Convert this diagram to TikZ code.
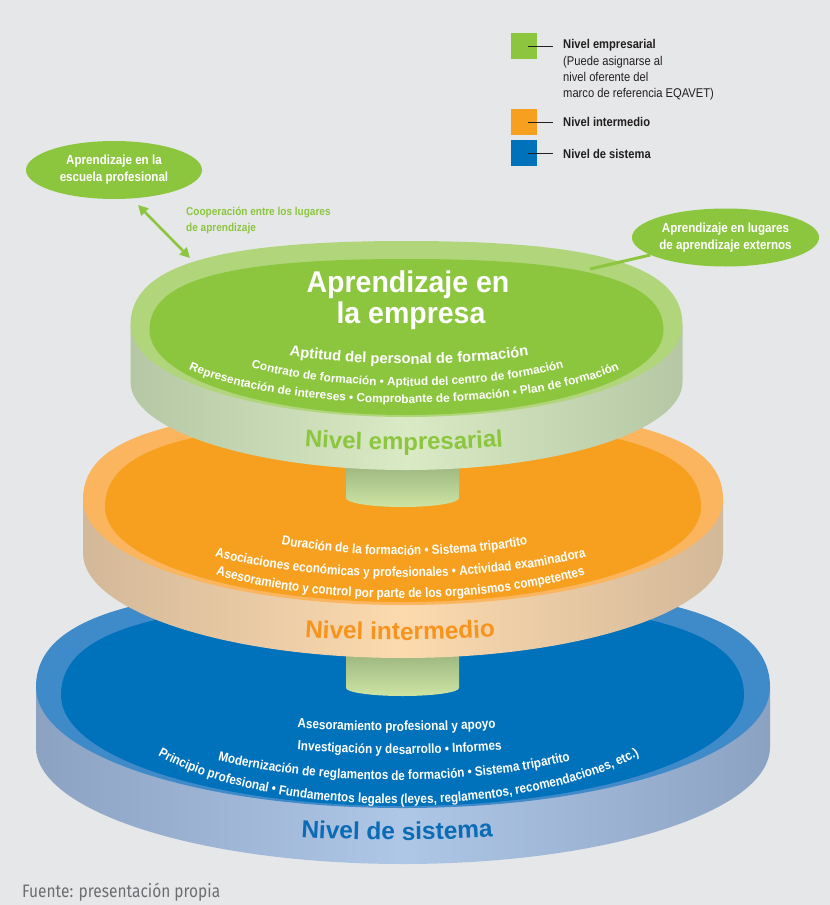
\documentclass[tikz,border=0pt]{standalone}
\usepackage{fontspec}
\setmainfont{Liberation Sans}
\newfontfamily\lsn{Liberation Sans}
\newfontfamily\lsc{Liberation Sans}[FakeStretch=0.88]
\newfontfamily\lst{Liberation Sans}[FakeStretch=0.95]
\newfontfamily\footfont{Fira Sans}[FakeStretch=0.86]
\usetikzlibrary{shapes.geometric,arrows.meta,decorations.text}
\definecolor{bg}{HTML}{E6E7E8}
\definecolor{gface}{HTML}{8CC63F}
\definecolor{gring}{HTML}{B1D57A}
\definecolor{gsideA}{HTML}{B5C7A4}
\definecolor{gsideB}{HTML}{DAEAC5}
\definecolor{oface}{HTML}{F7A01F}
\definecolor{oring}{HTML}{FAB55E}
\definecolor{osideA}{HTML}{D3B899}
\definecolor{osideB}{HTML}{FCDAAE}
\definecolor{bface}{HTML}{0071BB}
\definecolor{bring}{HTML}{3F8AC9}
\definecolor{bsideA}{HTML}{8CA2C3}
\definecolor{bsideB}{HTML}{AFC7E7}
\definecolor{stemA}{HTML}{8CA774}
\definecolor{stemB}{HTML}{CDE4A3}
\definecolor{olabel}{HTML}{F7941D}
\definecolor{blabel}{HTML}{0B6CB5}
\definecolor{txtdark}{HTML}{231F20}
\definecolor{footgray}{HTML}{6D6E71}
% face outline: cx, yc, rx, ytop, ybot
\newcommand\discface[5]{({#1-#3},{#2}) .. controls ({#1-#3},{#2-0.7*(#2-#4)}) and ({#1-0.7*#3},{#4}) .. ({#1},{#4}) .. controls ({#1+0.7*#3},{#4}) and ({#1+#3},{#2-0.7*(#2-#4)}) .. ({#1+#3},{#2}) .. controls ({#1+#3},{#2+0.56*(#5-#2)}) and ({#1+0.56*#3},{#5}) .. ({#1},{#5}) .. controls ({#1-0.56*#3},{#5}) and ({#1-#3},{#2+0.56*(#5-#2)}) .. cycle}
% side wall: cx, yc, rx, yedge, ybot
\newcommand\discside[5]{({#1-#3},{#2}) -- ({#1-#3},{#4}) .. controls ({#1-#3},{#4+0.552*(#5-#4)}) and ({#1-0.552*#3},{#5}) .. ({#1},{#5}) .. controls ({#1+0.552*#3},{#5}) and ({#1+#3},{#4+0.552*(#5-#4)}) .. ({#1+#3},{#4}) -- ({#1+#3},{#2}) -- cycle}
% lower half ellipse for text: cx, cy, a, b
\newcommand\textarc[4]{({#1-#3},{#2}) .. controls ({#1-#3},{#2+0.552*#4}) and ({#1-0.552*#3},{#2+#4}) .. ({#1},{#2+#4}) .. controls ({#1+0.552*#3},{#2+#4}) and ({#1+#3},{#2+0.552*#4}) .. ({#1+#3},{#2})}
\tikzset{
  sidewall/.style 2 args={left color=#1, right color=#1, middle color=#2},
  stemshade/.style={top color=stemA, bottom color=stemB},
  bubble/.style={ellipse, fill=gface, inner sep=0pt, align=center, text=white,
    font=\lsc\bfseries\fontsize{13.2}{17}\selectfont},
  legsq/.style={minimum width=26pt, minimum height=26pt, inner sep=0pt, anchor=north west},
  legtick/.style={txtdark, line width=0.8pt},
  legtext/.style={anchor=base west, inner sep=0pt, text=txtdark, font=\lsc\fontsize{12.7}{15}\selectfont},
}
\begin{document}
\begin{tikzpicture}[x=1pt,y=-1pt]
\fill[bg] (0,0) rectangle (830,905);
\useasboundingbox (0,0) rectangle (830,905);

% ---- blue disc
\shade[sidewall={bsideA}{bsideB}] \discside{403}{687}{367}{747}{864};
\fill[bring] \discface{403}{687}{367}{584}{808};
\fill[bface] \discface{402.5}{695}{341.5}{601}{806};
% stem 2
\shade[stemshade] (346,640) -- (346,688) .. controls (346,692.4) and (371.3,696) .. (402.5,696) .. controls (433.7,696) and (459,692.4) .. (459,688) -- (459,640) -- cycle;

% ---- orange disc
\shade[sidewall={osideA}{osideB}] \discside{403}{499}{320}{553}{658};
\fill[oring] \discface{403}{499}{320}{408}{605};
\fill[oface] \discface{403}{507}{298}{422}{602};
% stem 1
\shade[stemshade] (346,450) -- (346,498) .. controls (346,503) and (371.3,507) .. (402.5,507) .. controls (433.7,507) and (459,503) .. (459,498) -- (459,450) -- cycle;

% ---- green disc
\shade[sidewall={gsideA}{gsideB}] \discside{406.5}{325}{276}{382}{470};
\fill[gring] \discface{406.5}{325}{276}{241}{417};
\fill[gface] \discface{406.5}{330}{257}{259}{415};

% ---- green texts
\node[anchor=base, inner sep=0pt, text=white, font=\lst\bfseries\fontsize{30}{30}\selectfont] (title1) at (408,292) {Aprendizaje en};
\node[anchor=base, inner sep=0pt, text=white, font=\lst\bfseries\fontsize{30}{30}\selectfont] (title2) at (411,323) {la empresa};
\path[decorate, decoration={text along path, text align=center, text color=white,
  text={|\lsn\bfseries\fontsize{14.8}{16}\selectfont|Aptitud del personal de formación}}] \textarc{409}{289}{262}{75};
\path[decorate, decoration={text along path, text align=center, text color=white,
  text={|\lsn\bfseries\fontsize{11.8}{13}\selectfont|Contrato de formación • Aptitud del centro de formación}}] \textarc{407.5}{311}{239}{75};
\path[decorate, decoration={text along path, text align=center, text color=white,
  text={|\lsn\bfseries\fontsize{11.8}{13}\selectfont|Representación de intereses • Comprobante de formación • Plan de formación}}] \textarc{404}{328}{259}{75};
\path[decorate, decoration={text along path, text align=center, text color=gface,
  text={|\lsn\bfseries\fontsize{24}{26}\selectfont|Nivel empresarial}}] \textarc{404}{382}{320}{68};

% ---- orange texts
\path[decorate, decoration={text along path, text align=center, text color=white,
  text={|\lsc\bfseries\fontsize{13.3}{14}\selectfont|Duración de la formación • Sistema tripartito}}] \textarc{404.5}{465}{266}{90};
\path[decorate, decoration={text along path, text align=center, text color=white,
  text={|\lsc\bfseries\fontsize{13.3}{14}\selectfont|Asociaciones económicas y profesionales • Actividad examinadora}}] \textarc{400.5}{487}{293}{90};
\path[decorate, decoration={text along path, text align=center, text color=white,
  text={|\lsc\bfseries\fontsize{13.3}{14}\selectfont|Asesoramiento y control por parte de los organismos competentes}}] \textarc{400.5}{508}{275}{90};
\path[decorate, decoration={text along path, text align=center, text color=olabel,
  text={|\lsn\bfseries\fontsize{24.5}{26}\selectfont|Nivel intermedio}}] \textarc{400}{560}{350}{80};

% ---- blue texts
\path[decorate, decoration={text along path, text align=center, text color=white,
  text={|\lsc\bfseries\fontsize{13.3}{14}\selectfont|Asesoramiento profesional y apoyo}}] \textarc{396.5}{621}{422}{110};
\path[decorate, decoration={text along path, text align=center, text color=white,
  text={|\lsc\bfseries\fontsize{13.3}{14}\selectfont|Investigación y desarrollo • Informes}}] \textarc{399.5}{644}{375}{110};
\path[decorate, decoration={text along path, text align=center, text color=white,
  text={|\lsc\bfseries\fontsize{13.3}{14}\selectfont|Modernización de reglamentos de formación • Sistema tripartito}}] \textarc{394}{670}{311}{110};
\path[decorate, decoration={text along path, text align=center, text color=white,
  text={|\lsc\bfseries\fontsize{13.3}{14}\selectfont|Principio profesional • Fundamentos legales (leyes, reglamentos, recomendaciones, etc.)}}] \textarc{398.5}{694}{290}{110};
\path[decorate, decoration={text along path, text align=center, text color=blabel,
  text={|\lsn\bfseries\fontsize{24.5}{26}\selectfont|Nivel de sistema}}] \textarc{397}{740}{400}{100};

% ---- bubbles and connectors
\node[bubble, minimum width=176pt, minimum height=58pt] (escuela) at (114,170) {Aprendizaje en la\\escuela profesional};
\node[bubble, minimum width=183pt, minimum height=58pt] (externos) at (725.5,237.5) {Aprendizaje en lugares\\de aprendizaje externos};
\coordinate (arA) at (138,205);
\coordinate (arB) at (190,258);
\draw[gface, line width=2.6pt, {Triangle[length=10pt,width=10pt]}-{Triangle[length=10pt,width=10pt]}] (arA) -- (arB);
\coordinate (lnA) at (590,269);
\draw[gface, line width=3pt] (lnA) -- (externos);
\node[anchor=base west, inner sep=0pt, text=gface, font=\lsc\bfseries\fontsize{11.4}{14}\selectfont] (coop1) at (186,215) {Cooperación entre los lugares};
\node[anchor=base west, inner sep=0pt, text=gface, font=\lsc\bfseries\fontsize{11.4}{14}\selectfont] (coop2) at (186,231) {de aprendizaje};

% ---- legend
\node[legsq, fill=gface] (sqg) at (511,33) {};
\node[legsq, fill=oface] (sqo) at (511,109) {};
\node[legsq, fill=bface] (sqb) at (511,140) {};
\draw[legtick] ([xshift=-9pt]sqg.east) -- ++(25,0);
\draw[legtick] ([xshift=-9pt]sqo.east) -- ++(25,0);
\draw[legtick] ([xshift=-9pt]sqb.east) -- ++(25,0);
\node[legtext, font=\lsc\bfseries\fontsize{12.7}{15}\selectfont] (lg1) at (563,48) {Nivel empresarial};
\node[legtext] (lg1b) at (563,65) {(Puede asignarse al};
\node[legtext] (lg1c) at (563,81) {nivel oferente del};
\node[legtext] (lg1d) at (563,97) {marco de referencia EQAVET)};
\node[legtext, font=\lsc\bfseries\fontsize{12.7}{15}\selectfont] (lg2) at (563,126) {Nivel intermedio};
\node[legtext, font=\lsc\bfseries\fontsize{12.7}{15}\selectfont] (lg3) at (563,158) {Nivel de sistema};

% ---- source
\node[anchor=base west, inner sep=0pt, text=footgray, font=\footfont\fontsize{18}{20}\selectfont] (src) at (22,897) {Fuente: presentación propia};
\end{tikzpicture}
\end{document}
